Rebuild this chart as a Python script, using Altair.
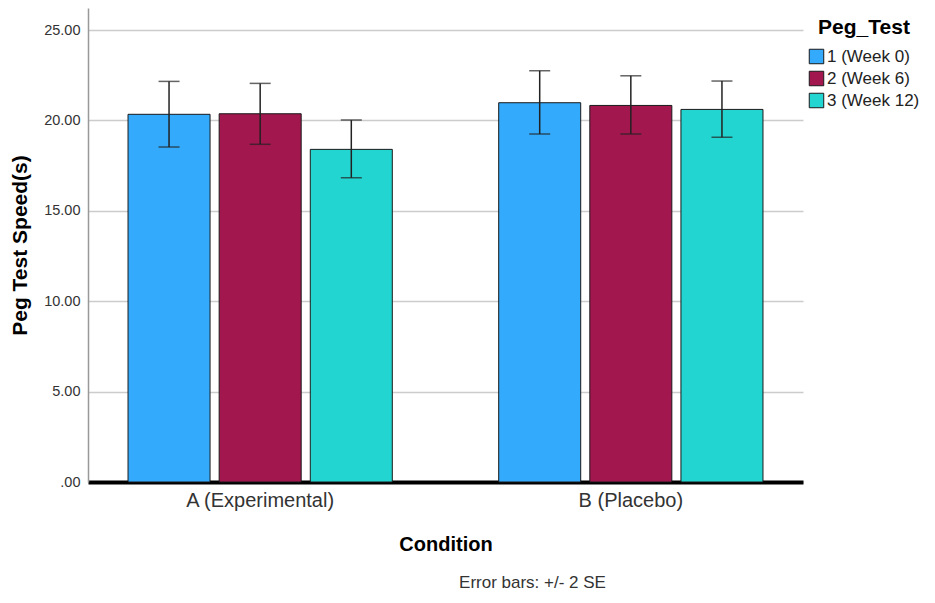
import altair as alt
import pandas as pd

conditions = ["A (Experimental)", "B (Placebo)"]
peg_tests = ["1 (Week 0)", "2 (Week 6)", "3 (Week 12)"]
colors = ["#33aafc", "#a3174f", "#23d5d0"]

means_a = [20.34, 20.37, 18.40]
means_b = [20.98, 20.83, 20.61]
lower_a = [18.53, 18.68, 16.83]
lower_b = [19.25, 19.25, 19.07]
upper_a = [22.16, 22.05, 20.02]
upper_b = [22.75, 22.47, 22.18]

rows = []
for cond, means, lows, ups in [
    (conditions[0], means_a, lower_a, upper_a),
    (conditions[1], means_b, lower_b, upper_b),
]:
    for p, m, lo, up in zip(peg_tests, means, lows, ups):
        rows.append({"Condition": cond, "Peg_Test": p, "mean": m, "lower": lo, "upper": up})
df = pd.DataFrame(rows)

FONT = "Liberation Sans"

x_enc = alt.X(
    "Condition:N",
    sort=conditions,
    scale=alt.Scale(paddingInner=0.287, paddingOuter=0.108),
    axis=alt.Axis(
        title="Condition",
        labelAngle=0,
        labelFontSize=20,
        labelColor="#333333",
        labelPadding=8,
        ticks=False,
        domainColor="black",
        domainWidth=4,
        titleFontSize=20,
        titleFontWeight="bold",
        titleColor="black",
        titlePadding=24,
        grid=False,
    ),
)
xoff_enc = alt.XOffset("Peg_Test:N", sort=peg_tests, scale=alt.Scale(paddingInner=0.1, paddingOuter=0))

y_scale = alt.Scale(domain=[0, 26.22], nice=False, zero=True)

bars = alt.Chart(df).mark_bar(stroke="#1a1a1a", strokeWidth=1).encode(
    x=x_enc,
    xOffset=xoff_enc,
    y=alt.Y(
        "mean:Q",
        scale=y_scale,
        axis=alt.Axis(
            title="Peg Test Speed(s)",
            values=[0, 5, 10, 15, 20, 25],
            labelExpr="datum.value == 0 ? '.00' : format(datum.value, '.2f')",
            labelFontSize=14.5,
            labelColor="#333333",
            labelPadding=8,
            ticks=False,
            domainColor="#999999",
            domainWidth=1.5,
            grid=True,
            gridColor="#cccccc",
            gridWidth=1.5,
            titleFontSize=21,
            titleFontWeight="bold",
            titleColor="black",
            titlePadding=13,
        ),
    ),
    color=alt.Color(
        "Peg_Test:N",
        sort=peg_tests,
        scale=alt.Scale(domain=peg_tests, range=colors),
        legend=alt.Legend(
            title="Peg_Test",
            orient="none",
            legendX=720,
            legendY=9,
            titleAnchor="middle",
            titleFontSize=21,
            titleFontWeight="bold",
            titleColor="black",
            titlePadding=10,
            labelFontSize=17,
            labelColor="#222222",
            symbolType="square",
            symbolSize=210,
            symbolStrokeColor="#1a1a1a",
            symbolStrokeWidth=1,
            rowPadding=3,
            labelOffset=2,
        ),
    ),
)

err = alt.Chart(df).mark_rule(color="#222222", strokeWidth=1.5).encode(
    x=alt.X("Condition:N", sort=conditions),
    xOffset=alt.XOffset("Peg_Test:N", sort=peg_tests),
    y=alt.Y("lower:Q", scale=y_scale),
    y2="upper:Q",
)

cap_lo = alt.Chart(df).mark_tick(color="#222222", thickness=1.5, size=21).encode(
    x=alt.X("Condition:N", sort=conditions),
    xOffset=alt.XOffset("Peg_Test:N", sort=peg_tests),
    y=alt.Y("lower:Q", scale=y_scale),
)
cap_hi = alt.Chart(df).mark_tick(color="#222222", thickness=1.5, size=21).encode(
    x=alt.X("Condition:N", sort=conditions),
    xOffset=alt.XOffset("Peg_Test:N", sort=peg_tests),
    y=alt.Y("upper:Q", scale=y_scale),
)

chart = alt.layer(bars, err, cap_lo, cap_hi).properties(
    width=715,
    height=474,
    autosize=alt.AutoSizeParams(type="none"),
    padding={"left": 80, "top": 0, "right": 124, "bottom": 113},
    title=alt.TitleParams(
        text="Error bars: +/- 2 SE",
        orient="bottom",
        anchor="middle",
        dx=87,
        offset=21,
        fontSize=17,
        fontWeight="normal",
        color="#333333",
        font=FONT,
    ),
).configure(font=FONT).configure_view(stroke=None).configure_axis(
    labelFont=FONT, titleFont=FONT
).configure_legend(labelFont=FONT, titleFont=FONT)

chart.save("out.html", embed_options={"renderer": "svg", "actions": False})
